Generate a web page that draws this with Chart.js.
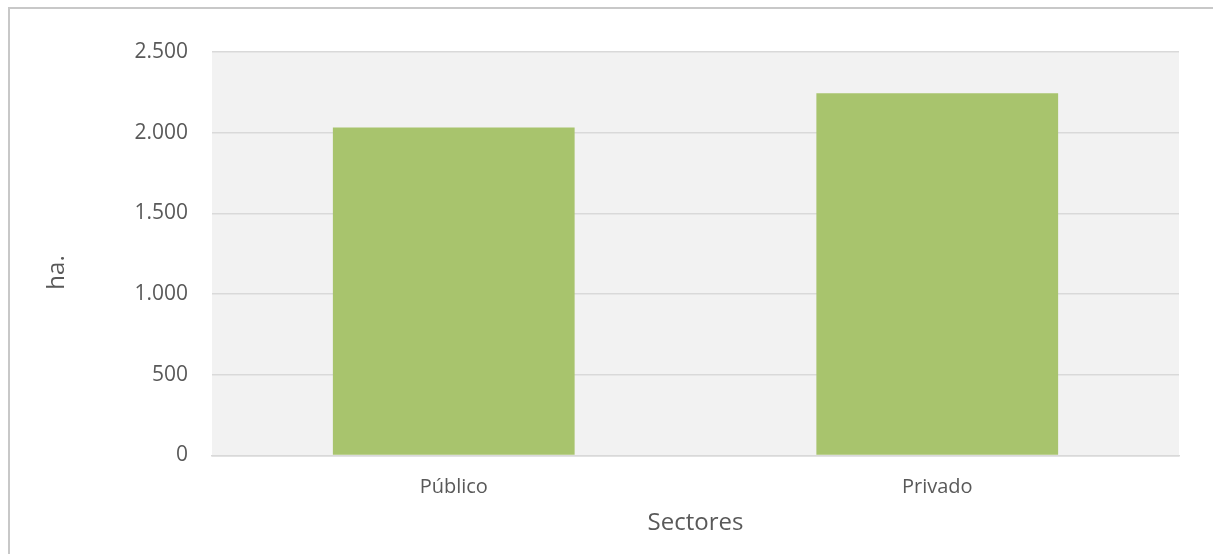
<!DOCTYPE html>
<html>
<head>
<meta charset="utf-8">
<script src="https://cdn.jsdelivr.net/npm/chart.js@4.4.0/dist/chart.umd.min.js"></script>
<style>
  html, body { margin: 0; padding: 0; background: #fff; }
  #wrap { width: 1213px; height: 554px; }
</style>
</head>
<body>
<div id="wrap"><canvas id="myChart"></canvas></div>
<script>
// categorías
var sectores = ['Público', 'Privado'];
// valores (ha.)
var hectareas = [2032, 2244];
// eje y
var yMax = 2500;
var yStep = 500;

// fondo del área y marco exterior
var fondo = {
    id: 'fondo',
    beforeDraw: function(chart) {
        var ctx = chart.ctx, a = chart.chartArea;
        ctx.save();
        ctx.fillStyle = '#f2f2f2';
        ctx.fillRect(a.left, a.top, a.right - a.left, a.bottom - a.top);
        ctx.strokeStyle = '#c8c8c8';
        ctx.lineWidth = 2;
        ctx.beginPath();
        ctx.moveTo(9, 560);
        ctx.lineTo(9, 8);
        ctx.lineTo(1220, 8);
        ctx.stroke();
        ctx.restore();
    }
};

var ctx = document.getElementById('myChart').getContext('2d');
new Chart(ctx, {
    type: 'bar',
    data: {
        labels: sectores,
        datasets: [{
            label: 'ha.',
            backgroundColor: '#a8c46d',
            data: hectareas,
            barPercentage: 0.5,
            categoryPercentage: 1
        }]
    },
    options: {
        responsive: true,
        maintainAspectRatio: false,
        animation: false,
        layout: { padding: { left: 10, right: 34, top: 52, bottom: 0 } },
        plugins: {
            legend: { display: false },
            tooltip: { enabled: false }
        },
        scales: {
            x: {
                grid: { display: false },
                border: { display: true, color: '#d9d9d9', width: 1.5 },
                ticks: { color: '#595959', font: { family: 'Open Sans', size: 20 }, padding: 12 },
                title: { display: true, text: 'Sectores', color: '#595959',
                         font: { family: 'Open Sans', size: 24 }, padding: { bottom: 16 } },
                afterFit: function(scale) { scale.height = 98.5; }
            },
            y: {
                min: 0,
                max: yMax,
                grid: { color: '#d9d9d9', lineWidth: 1.5, drawTicks: false },
                border: { display: false },
                ticks: {
                    stepSize: yStep,
                    padding: 24,
                    color: '#595959',
                    font: { family: 'Open Sans', size: 21 },
                    callback: function(v) { return v.toLocaleString('de-DE'); }
                },
                // espacios al final para bajar el título como en el original
                title: { display: true, text: 'ha.\u00a0\u00a0\u00a0\u00a0\u00a0\u00a0', color: '#595959',
                         font: { family: 'Open Sans', size: 24 }, padding: { top: 33 } },
                afterFit: function(scale) { scale.width = 202; }
            }
        }
    },
    plugins: [fondo]
});
</script>
</body>
</html>
